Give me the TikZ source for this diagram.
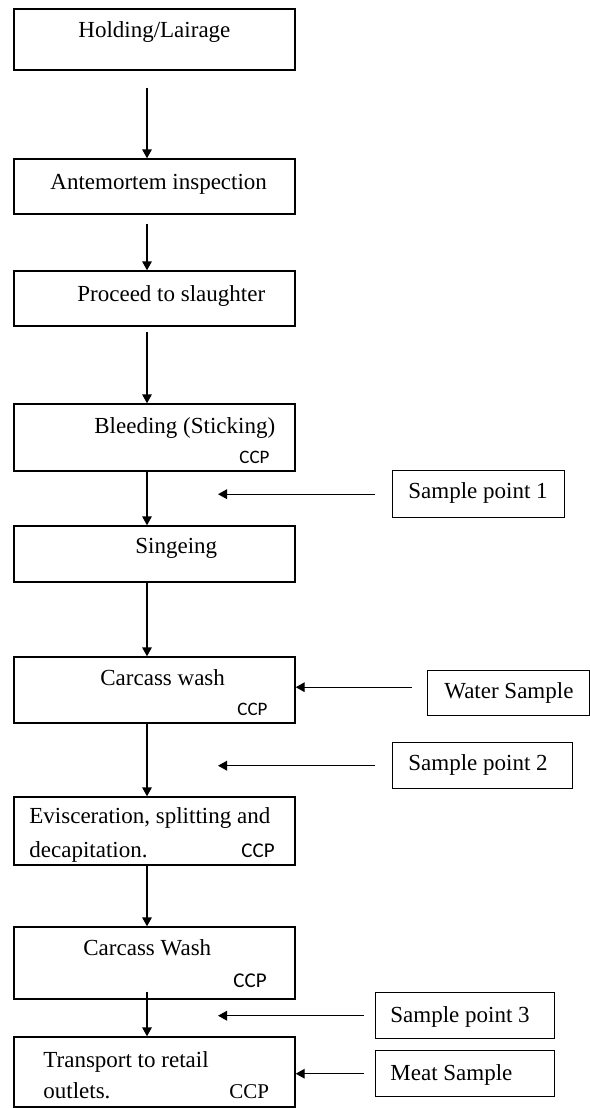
\documentclass[tikz,border=0pt]{standalone}
\usepackage{fontspec}
\setmainfont{Liberation Serif}
\newfontfamily\ccpfont{Carlito}
\usetikzlibrary{arrows.meta}

\begin{document}
\begin{tikzpicture}[x=0.5pt, y=-0.5pt,
    stage/.style={draw, line width=0.7pt, minimum width=140.5pt, inner sep=0pt},
    probe/.style={draw, line width=0.7pt, inner sep=0pt, anchor=north west},
    lbl/.style={inner sep=0pt, anchor=base west, font=\fontsize{11.5}{14}\selectfont},
    ccp/.style={inner sep=0pt, anchor=base west, font=\ccpfont\fontsize{10.5}{12}\selectfont},
    flow/.style={line width=0.7pt, -{Triangle[length=4.5pt, width=4.8pt]}}]

    \useasboundingbox (0, 0) rectangle (589, 1108);

    \node [stage, minimum height=30.5pt] (hold) at (154.5, 39.5) {};
    \node [stage, minimum height=27.5pt] (ante) at (154.5, 186.5) {};
    \node [stage, minimum height=27.5pt] (proc) at (154.5, 298.5) {};
    \node [stage, minimum height=33.5pt] (bleed) at (154.5, 437.5) {};
    \node [stage, minimum height=28pt] (singe) at (154.5, 554) {};
    \node [stage, minimum height=33pt] (wash) at (154.5, 690) {};
    \node [stage, minimum height=34pt] (evis) at (154.5, 831) {};
    \node [stage, minimum height=36pt] (rinse) at (154.5, 963) {};
    \node [stage, minimum height=35pt] (trans) at (154.5, 1072) {};

    \node [lbl] (holdtxt) at (78, 38) {Holding/Lairage};
    \node [lbl] (antetxt) at (50, 189) {Antemortem inspection};
    \node [lbl] (proctxt) at (77, 301) {Proceed to slaughter};
    \node [lbl] (bleedtxt) at (94, 433) {Bleeding (Sticking)};
    \node [ccp, font=\ccpfont\fontsize{9.5}{12}\selectfont] (bleedccp) at (239, 463) {CCP};
    \node [lbl] (singetxt) at (135, 553) {Singeing};
    \node [lbl] (washtxt) at (100, 685) {Carcass wash};
    \node [ccp, font=\ccpfont\fontsize{9.5}{12}\selectfont] (washccp) at (237, 715) {CCP};
    \node [lbl] (evistxt) at (29, 823) {Evisceration, splitting and};
    \node [lbl] (decaptxt) at (29, 857) {decapitation.};
    \node [ccp] (evisccp) at (241, 857) {CCP};
    \node [lbl] (rinsetxt) at (83, 955) {Carcass Wash};
    \node [ccp] (rinseccp) at (233, 987) {CCP};
    \node [lbl] (transtxt) at (43, 1067) {Transport to retail};
    \node [lbl] (outltxt) at (43, 1098) {outlets.};
    \node [lbl, font=\fontsize{10.5}{12}\selectfont] (transccp) at (229, 1098) {CCP};

    \node [probe, minimum width=86pt, minimum height=23.5pt] (sp1) at (392, 470) {};
    \node [probe, minimum width=80.75pt, minimum height=22.5pt] (water) at (427, 670) {};
    \node [probe, minimum width=90pt, minimum height=23pt] (sp2) at (392, 742) {};
    \node [probe, minimum width=89.5pt, minimum height=23pt] (sp3) at (375, 992) {};
    \node [probe, minimum width=89.5pt, minimum height=23pt] (meat) at (375, 1050) {};

    \node [lbl] (sp1txt) at (408, 498) {Sample point 1};
    \node [lbl] (watertxt) at (444, 698) {Water Sample};
    \node [lbl] (sp2txt) at (408, 770) {Sample point 2};
    \node [lbl] (sp3txt) at (390, 1022) {Sample point 3};
    \node [lbl] (meattxt) at (390, 1080) {Meat Sample};

    \coordinate (spine) at (147, 0);
    \coordinate (tap1) at (218, 496);
    \coordinate (tap2) at (218, 763);
    \coordinate (tap3) at (218, 1017);

    \draw [flow, shorten <=8.5pt] (hold.south -| spine) -- (ante.north -| spine);
    \draw [flow, shorten <=4.5pt] (ante.south -| spine) -- (proc.north -| spine);
    \draw [flow, shorten <=2.5pt] (proc.south -| spine) -- (bleed.north -| spine);
    \draw [flow] (bleed.south -| spine) -- (singe.north -| spine);
    \draw [flow] (singe.south -| spine) -- (wash.north -| spine);
    \draw [flow] (wash.south -| spine) -- (evis.north -| spine);
    \draw [flow] (evis.south -| spine) -- (rinse.north -| spine);
    \draw [flow, shorten <=-4pt] (rinse.south -| spine) -- (trans.north -| spine);

    \draw [flow] ([xshift=-8.5pt]sp1.west) -- (tap1 |- sp1.west);
    \draw [flow] ([xshift=-7.5pt, yshift=3pt]water.west) -- ([yshift=3pt]wash.east |- water.west);
    \draw [flow] ([xshift=-8.5pt]sp2.west) -- (tap2 |- sp2.west);
    \draw [flow] ([xshift=-5.5pt]sp3.west) -- (tap3 |- sp3.west);
    \draw [flow] ([xshift=-5.5pt]meat.west) -- (trans.east |- meat.west);

\end{tikzpicture}
\end{document}
